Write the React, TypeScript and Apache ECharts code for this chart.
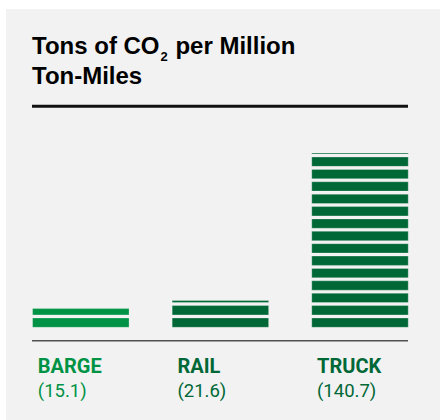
import React, { useEffect, useRef } from "react";
import * as echarts from "echarts";

// ---- data ----
const categories = ["BARGE", "RAIL", "TRUCK"];
const values = [15.1, 21.6, 140.7];
const valueLabels = ["(15.1)", "(21.6)", "(140.7)"];
const barColors = ["#009245", "#006837", "#006837"];
const labelColors = ["#009245", "#006837", "#006837"];
const STRIPE_STEP = 10; // each stripe stands for 10 tons
const STRIPE_FILL = 0.755; // share of a step that is coloured (rest is gap)
const BAR_RATIO = 0.691;

export default function App() {
  const ref = useRef<HTMLDivElement>(null);

  useEffect(() => {
    const chart = echarts.init(ref.current!, null, { renderer: "svg" });

    const rich: Record<string, any> = {};
    categories.forEach((_, i) => {
      rich["n" + i] = {
        fontFamily: "Roboto",
        fontWeight: "bold",
        fontSize: 20,
        lineHeight: 25,
        width: 86,
        align: "left",
        color: labelColors[i],
      };
      rich["v" + i] = {
        fontFamily: "Roboto",
        fontWeight: "normal",
        fontSize: 18.5,
        lineHeight: 25,
        width: 86,
        align: "left",
        color: labelColors[i],
      };
    });

    const renderItem = (params: any, api: any) => {
      const idx = api.value(0);
      const val = api.value(1);
      const band = api.size([1, 0])[0];
      const w = band * BAR_RATIO;
      const cx = api.coord([idx, 0])[0];
      const color = barColors[idx];
      const children: any[] = [];
      const full = Math.floor(val / STRIPE_STEP);
      const segs: [number, number][] = [];
      for (let k = 0; k < full; k++) {
        segs.push([k * STRIPE_STEP, k * STRIPE_STEP + STRIPE_STEP * STRIPE_FILL]);
      }
      if (val - full * STRIPE_STEP > 0) segs.push([full * STRIPE_STEP, val]);
      segs.forEach(([lo, hi]) => {
        const y0 = api.coord([idx, hi])[1];
        const y1 = api.coord([idx, lo])[1];
        children.push({
          type: "rect",
          shape: { x: cx - w / 2, y: y0, width: w, height: y1 - y0 },
          style: { fill: color, stroke: "rgba(255,255,255,0.35)", lineWidth: 0.8 },
        });
      });
      return { type: "group", children };
    };

    const option: any = {
      animation: false,
      backgroundColor: "#ffffff",
      graphic: [
        {
          type: "rect",
          z: -1,
          silent: true,
          shape: { x: 6, y: 9, width: 434, height: 411 },
          style: { fill: "#f2f2f2" },
        },
        {
          type: "text",
          left: 32,
          top: 27.7,
          style: {
            text: "{t|Tons of CO}{s|2}{t| per Million}\n{t|Ton-Miles}",
            rich: {
              t: {
                fontFamily: "Liberation Sans",
                fontWeight: "bold",
                fontSize: 24,
                lineHeight: 30,
                color: "#111111",
              },
              s: {
                fontFamily: "Liberation Sans",
                fontWeight: "bold",
                fontSize: 13,
                lineHeight: 5,
                padding: [22, 1, 0, 1],
                color: "#111111",
              },
            },
          },
        },
        {
          type: "line",
          shape: { x1: 32, y1: 106.3, x2: 408, y2: 106.3 },
          style: { stroke: "#111111", lineWidth: 3 },
        },
        {
          type: "line",
          shape: { x1: 32, y1: 340.8, x2: 408, y2: 340.8 },
          style: { stroke: "#505050", lineWidth: 1.6 },
        },
      ],
      grid: { left: 11, right: 10.2, top: 141.6, bottom: 92.7 },
      xAxis: {
        type: "category",
        data: categories,
        axisLine: { show: false },
        axisTick: { show: false },
        splitLine: { show: false },
        axisLabel: {
          interval: 0,
          margin: 26,
          align: "center",
          formatter: (v: string, i: number) => `{n${i}|${v}}\n{v${i}|${valueLabels[i]}}`,
          rich,
        },
      },
      yAxis: { type: "value", min: 0, max: 150, show: false },
      series: [
        {
          type: "custom",
          data: values.map((v, i) => [i, v]),
          encode: { x: 0, y: 1 },
          renderItem,
        },
      ],
    };

    chart.setOption(option);
    return () => chart.dispose();
  }, []);

  return (
    <div
      ref={ref}
      style={{ position: "absolute", left: 0, top: 0, width: 440, height: 420 }}
    />
  );
}
